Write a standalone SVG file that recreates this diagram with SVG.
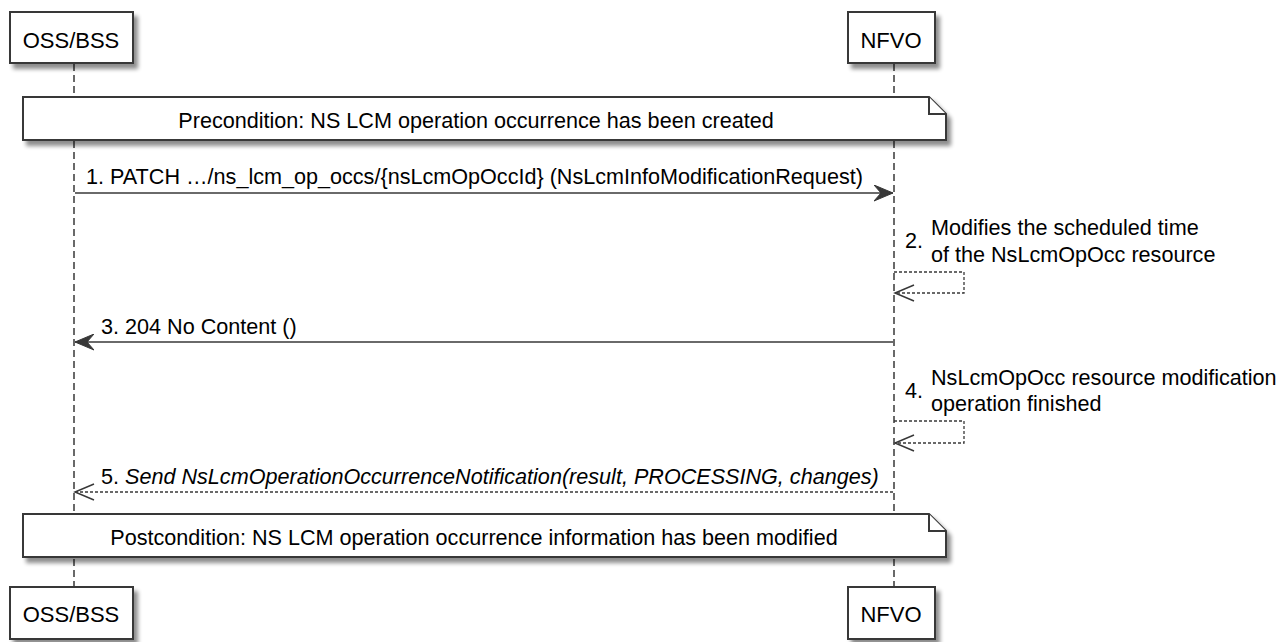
<svg xmlns="http://www.w3.org/2000/svg" width="1278" height="642" viewBox="0 0 1278 642">
<defs>
<filter id="sh" x="-10%" y="-10%" width="130%" height="150%">
<feGaussianBlur in="SourceAlpha" stdDeviation="2.2"/>
<feOffset dx="4" dy="5" result="b"/>
<feComponentTransfer><feFuncA type="linear" slope="0.45"/></feComponentTransfer>
<feMerge><feMergeNode/><feMergeNode in="SourceGraphic"/></feMerge>
</filter>
<marker id="fill" markerWidth="20" markerHeight="17" refX="19" refY="8.5" orient="auto" markerUnits="userSpaceOnUse">
<path d="M0,0.5 L19,8.5 L0,16.5 L7,8.5 Z" fill="#383838" stroke="#383838" stroke-width="1"/>
</marker>
<marker id="open" markerWidth="22" markerHeight="20" refX="20" refY="10" orient="auto" markerUnits="userSpaceOnUse">
<path d="M1,2 L20,10 L1,18" fill="none" stroke="#383838" stroke-width="1.5"/>
</marker>
<style>
.box{fill:#fff;stroke:#383838;stroke-width:2}
.note{fill:#fff;stroke:#383838;stroke-width:2}
.life{stroke:#383838;stroke-width:1.5;stroke-dasharray:7,4;fill:none}
.msg{stroke:#383838;stroke-width:1.5;fill:none}
.dash{stroke:#383838;stroke-width:1.3;stroke-dasharray:3,2;fill:none}
.pt{font-family:"Liberation Sans",Arial,sans-serif;font-size:22px;fill:#000;text-anchor:middle}
.t{font-family:"Liberation Sans",Arial,sans-serif;font-size:21.6px;fill:#000}
.c{text-anchor:middle}
.i{font-style:italic}
</style>
</defs>
<g id="lifelines">
<line class="life" x1="74" y1="64" x2="74" y2="587"/>
<line class="life" x1="894" y1="64" x2="894" y2="587"/>
</g>
<g id="participant-ossbss-top">
<rect class="box" x="10" y="12" width="123" height="51" filter="url(#sh)"/>
<text class="pt" x="71" y="48">OSS/BSS</text>
</g>
<g id="participant-nfvo-top">
<rect class="box" x="848" y="12" width="87" height="51" filter="url(#sh)"/>
<text class="pt" x="891" y="48">NFVO</text>
</g>
<g id="note-precondition">
<path class="note" d="M23,97 H929 L946,114 V140 H23 Z" filter="url(#sh)"/>
<path class="note" d="M929,97 V114 H946" fill="none"/>
<text class="t c" x="476" y="128">Precondition: NS LCM operation occurrence has been created</text>
</g>
<g id="connectors">
<line class="msg" x1="75" y1="193" x2="893" y2="193" marker-end="url(#fill)"/>
<text class="t" x="86" y="184">1. PATCH …/ns_lcm_op_occs/{nsLcmOpOccId} (NsLcmInfoModificationRequest)</text>
<polyline class="dash" points="894,272 964,272 964,293 895,293" marker-end="url(#open)"/>
<text class="t" x="905" y="248">2.</text>
<text class="t" x="931" y="235">Modifies the scheduled time</text>
<text class="t" x="931" y="262">of the NsLcmOpOcc resource</text>
<line class="msg" x1="893" y1="342" x2="75" y2="342" marker-end="url(#fill)"/>
<text class="t" x="101" y="334">3. 204 No Content ()</text>
<text class="t" x="905" y="398">4.</text>
<text class="t" x="931" y="385">NsLcmOpOcc resource modification</text>
<text class="t" x="931" y="411">operation finished</text>
<polyline class="dash" points="894,421 964,421 964,443 895,443" marker-end="url(#open)"/>
<line class="dash" x1="893" y1="492" x2="75" y2="492" marker-end="url(#open)"/>
<text class="t" x="101" y="484">5. <tspan class="i">Send NsLcmOperationOccurrenceNotification(result, PROCESSING, changes)</tspan></text>
</g>
<g id="note-postcondition">
<path class="note" d="M23,514 H929 L946,531 V557 H23 Z" filter="url(#sh)"/>
<path class="note" d="M929,514 V531 H946" fill="none"/>
<text class="t c" x="474" y="545">Postcondition: NS LCM operation occurrence information has been modified</text>
</g>
<g id="participant-ossbss-bottom">
<rect class="box" x="10" y="587" width="123" height="52" filter="url(#sh)"/>
<text class="pt" x="71" y="622">OSS/BSS</text>
</g>
<g id="participant-nfvo-bottom">
<rect class="box" x="848" y="587" width="87" height="52" filter="url(#sh)"/>
<text class="pt" x="891" y="622">NFVO</text>
</g>
</svg>
